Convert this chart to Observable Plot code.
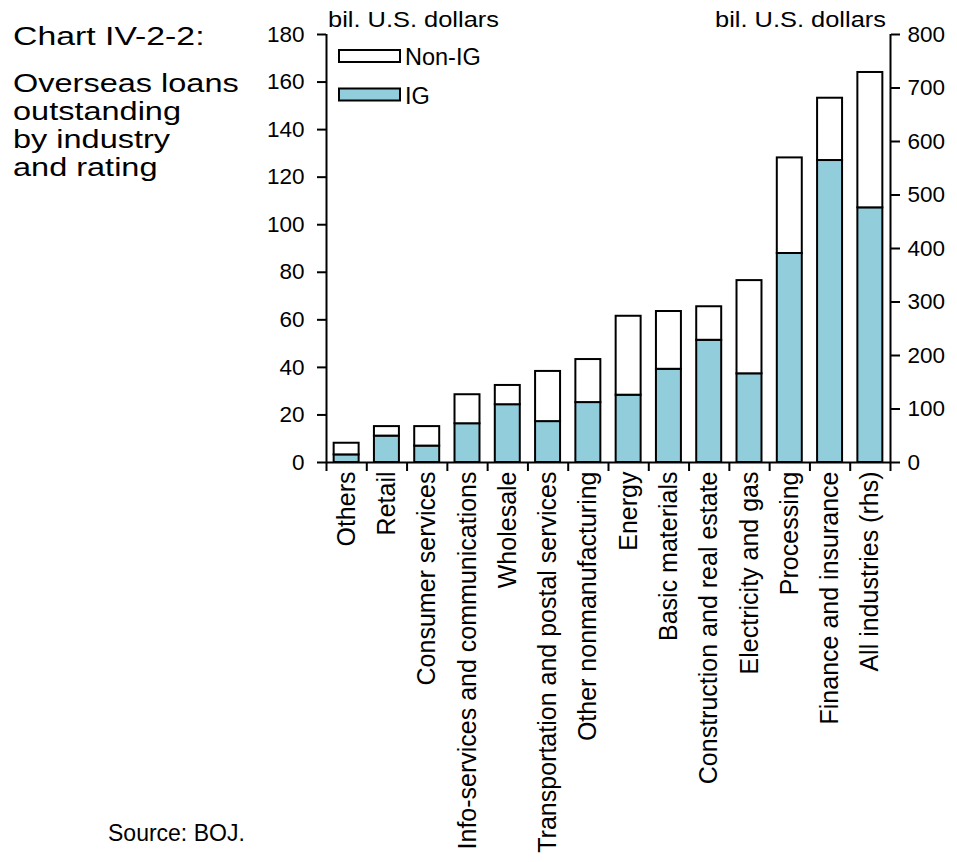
<!DOCTYPE html>
<html><head><meta charset="utf-8">
<script src="https://cdn.jsdelivr.net/npm/d3@7"></script>
<script src="https://cdn.jsdelivr.net/npm/@observablehq/plot@0.6"></script>
<style>
body{margin:0;background:#fff;}
#wrap{position:relative;width:957px;height:862px;overflow:hidden;background:#fff;}
#wrap svg{position:absolute;left:0;top:0;}
</style></head><body><div id="wrap"></div>
<script>
const categories = ["Others","Retail","Consumer services","Info-services and communications","Wholesale","Transportation and postal services","Other nonmanufacturing","Energy","Basic materials","Construction and real estate","Electricity and gas","Processing","Finance and insurance","All industries (rhs)"];
const igValues    = [3.2, 11.1, 6.9, 16.3, 24.3, 17.2, 25.2, 28.3, 39.2, 51.4, 37.3, 87.9, 127.0, 476];
const nonIgValues = [4.9, 4.0, 8.2, 12.2, 8.1, 21.1, 18.1, 33.2, 24.3, 14.1, 39.2, 40.2, 26.2, 253];
const rhsCategory = "All industries (rhs)";
const leftTicks = [0,20,40,60,80,100,120,140,160,180];
const rightTicks = [0,100,200,300,400,500,600,700,800];
const seriesNames = ["IG","Non-IG"];
const seriesColors = ["#92cddc","#ffffff"];
const legendOrder = ["Non-IG","IG"];
const lhsMax = 180, rhsMax = 800;
const titleLines = ["Overseas loans","outstanding","by industry","and rating"];
const titleHead = "Chart IV-2-2:";
const unitText = "bil. U.S. dollars";
const sourceText = "Source: BOJ.";

const toLhs = (cat, v) => cat === rhsCategory ? v * lhsMax / rhsMax : v;
const rows = [
  ...categories.map((c,i)=>({cat:c, series:"IG", value:toLhs(c, igValues[i])})),
  ...categories.map((c,i)=>({cat:c, series:"Non-IG", value:toLhs(c, nonIgValues[i])}))
];

const W=957, H=862, mL=326, mR=67, mT=34, mB=400;
const padIn=0.38, padOut=0.19;
const step = (W-mL-mR)/(categories.length - padIn + 2*padOut);
const font = '"Liberation Sans", Arial, Helvetica, sans-serif';
const last = categories[categories.length-1];
const ax = {stroke:"#000", strokeWidth:2};

const chart = Plot.plot({
  width:W, height:H, marginLeft:mL, marginRight:mR, marginTop:mT, marginBottom:mB,
  style:{fontFamily:font, fontSize:"22px", color:"#000", background:"transparent", overflow:"visible"},
  x:{type:"band", domain:categories, paddingInner:padIn, paddingOuter:padOut, align:0.5, round:false, axis:null},
  y:{domain:[0,lhsMax], axis:null},
  color:{domain:seriesNames, range:seriesColors},
  marks:[
    Plot.barY(rows, {x:"cat", y:"value", fill:"series", stroke:"#000", strokeWidth:2}),
    Plot.ruleY([0], ax),
    Plot.ruleX([categories[0]], {x:d=>d, dx:-step/2, y1:0, y2:lhsMax, ...ax}),
    Plot.ruleX([last], {x:d=>d, dx:step/2, y1:0, y2:lhsMax, ...ax}),
    Plot.ruleX(categories, {x:d=>d, dx:-step/2, y1:0, y2:0, insetBottom:-9, ...ax}),
    Plot.ruleX([last], {x:d=>d, dx:step/2, y1:0, y2:0, insetBottom:-9, ...ax}),
    Plot.axisY(leftTicks, {anchor:"left", label:null, tickSize:9, tickPadding:13, fontSize:22.5, strokeWidth:2}),
    Plot.axisY(rightTicks.map(v=>v*lhsMax/rhsMax), {anchor:"right", label:null, tickSize:9, tickPadding:8, fontSize:22.5, strokeWidth:2, tickFormat:d=>String(Math.round(d*rhsMax/lhsMax))}),
    Plot.axisX({anchor:"bottom", label:null, tickSize:0, tickRotate:-90, tickPadding:9, fontSize:25})
  ]
});
const wrap = document.getElementById("wrap");
wrap.appendChild(chart);

// overlay: titles, units, legend, source
const ov = d3.create("svg").attr("width",W).attr("height",H)
  .style("font-family",font).style("pointer-events","none");
const sx = 1.3;
const tg = ov.append("g").attr("transform",`scale(${sx},1)`).attr("fill","#000");
tg.append("text").attr("x",13/sx).attr("y",45).attr("font-size",26).text(titleHead);
[92,120,148,176].forEach((b,i)=>tg.append("text").attr("x",13/sx).attr("y",b).attr("font-size",25).text(titleLines[i]));

ov.append("text").attr("x",328).attr("y",27).attr("font-size",21.5)
  .attr("textLength",171).attr("lengthAdjust","spacingAndGlyphs").text(unitText);
ov.append("text").attr("x",715).attr("y",27).attr("font-size",21.5)
  .attr("textLength",171).attr("lengthAdjust","spacingAndGlyphs").text(unitText);

legendOrder.forEach((s,i)=>{
  const y0 = 50 + i*38.5;
  ov.append("rect").attr("x",339).attr("y",y0).attr("width",61).attr("height",12)
    .attr("fill",seriesColors[seriesNames.indexOf(s)]).attr("stroke","#000").attr("stroke-width",2);
  ov.append("text").attr("x",405).attr("y",y0+15).attr("font-size",23.5).text(s);
});

ov.append("text").attr("x",108).attr("y",841).attr("font-size",23).text(sourceText);
wrap.appendChild(ov.node());
</script></body></html>
